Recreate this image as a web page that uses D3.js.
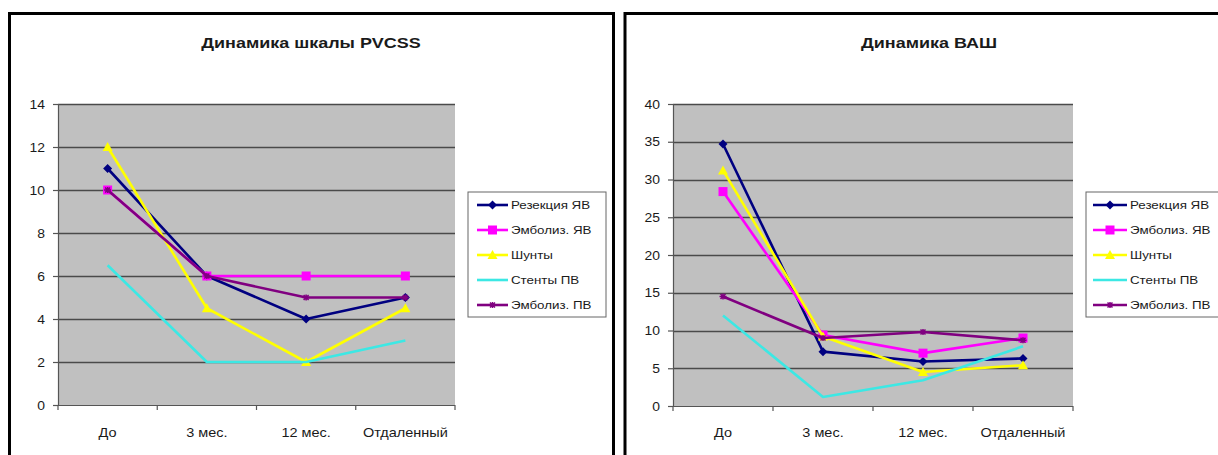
<!DOCTYPE html>
<html>
<head>
<meta charset="utf-8">
<script src="https://cdn.jsdelivr.net/npm/d3@7"></script>
<style>
  html, body { margin: 0; padding: 0; background: #fff; }
  svg { display: block; }
  text { font-family: "Liberation Sans", Arial, sans-serif; fill: #1a1a1a; }
</style>
</head>
<body>
<svg id="chart" width="1218" height="455"></svg>
<script>
// ---------- data ----------
const categories = ["До", "3 мес.", "12 мес.", "Отдаленный"];
const seriesNames = ["Резекция ЯВ", "Эмболиз. ЯВ", "Шунты", "Стенты ПВ", "Эмболиз. ПВ"];

const pvcssTitle = "Динамика шкалы PVCSS";
const pvcssTicks = [0, 2, 4, 6, 8, 10, 12, 14];
const pvcssResection = [11, 6, 4, 5];
const pvcssEmbolYV = [10, 6, 6, 6];
const pvcssShunts = [12, 4.5, 2, 4.5];
const pvcssStents = [6.5, 2, 2, 3];
const pvcssEmbolPV = [10, 6, 5, 5];

const vasTitle = "Динамика ВАШ";
const vasTicks = [0, 5, 10, 15, 20, 25, 30, 35, 40];
const vasResection = [34.7, 7.2, 5.9, 6.3];
const vasEmbolYV = [28.4, 9.4, 7.0, 9.0];
const vasShunts = [31.2, 9.2, 4.5, 5.4];
const vasStents = [12.0, 1.2, 3.4, 7.9];
const vasEmbolPV = [14.5, 9.0, 9.8, 8.7];

// ---------- styles ----------
const seriesColors = ["#000080", "#ff00ff", "#ffff00", "#3ce8e4", "#800080"];
const seriesMarkers = ["diamond", "square", "triangle", "none", "star"];
const SX = 1.16; // horizontal stretch of the original image text

const svg = d3.select("#chart");

function txt(g, x, y, s, size, anchor, weight) {
  return g.append("text")
    .attr("transform", `translate(${x},${y}) scale(${SX},1)`)
    .attr("text-anchor", anchor || "start")
    .style("font-size", size + "px")
    .style("font-weight", weight || "normal")
    .text(s);
}

function marker(g, type, x, y, color) {
  if (type === "diamond") {
    g.append("path").attr("d", `M${x},${y-4.5}L${x+4.5},${y}L${x},${y+4.5}L${x-4.5},${y}Z`).attr("fill", color);
  } else if (type === "square") {
    g.append("rect").attr("x", x-4.5).attr("y", y-4.5).attr("width", 9).attr("height", 9).attr("fill", color);
  } else if (type === "triangle") {
    g.append("path").attr("d", `M${x},${y-5}L${x+5},${y+4}L${x-5},${y+4}Z`).attr("fill", color);
  } else if (type === "star") {
    g.append("path").attr("d", `M${x-3.5},${y}L${x+3.5},${y}M${x},${y-3}L${x},${y+3}M${x-2.5},${y-2.5}L${x+2.5},${y+2.5}M${x-2.5},${y+2.5}L${x+2.5},${y-2.5}`)
      .attr("stroke", color).attr("stroke-width", 1.5);
  }
}

function drawChart(cfg) {
  const g = svg.append("g");
  // outer frame
  g.append("rect").attr("x", cfg.box[0]).attr("y", cfg.box[1])
    .attr("width", cfg.box[2]).attr("height", cfg.box[3])
    .attr("fill", "#fff").attr("stroke", "#000").attr("stroke-width", 3);

  txt(g, cfg.titleX, 48, cfg.title, 15.5, "middle", "bold");

  const x = d3.scaleBand().domain(categories).range([cfg.plot[0], cfg.plot[1]]);
  const y = d3.scaleLinear().domain([0, d3.max(cfg.ticks)]).range([cfg.plot[3], cfg.plot[2]]);

  // plot area
  g.append("rect").attr("x", cfg.plot[0]).attr("y", cfg.plot[2])
    .attr("width", cfg.plot[1] - cfg.plot[0]).attr("height", cfg.plot[3] - cfg.plot[2])
    .attr("fill", "#c0c0c0");

  // gridlines
  g.selectAll(".grid").data(cfg.ticks.filter(t => t > 0)).enter().append("line")
    .attr("x1", cfg.plot[0]).attr("x2", cfg.plot[1])
    .attr("y1", d => Math.round(y(d)) + 0.5).attr("y2", d => Math.round(y(d)) + 0.5)
    .attr("stroke", "#4a4a4a").attr("stroke-width", 1.3);

  // y axis
  const yAxis = d3.axisLeft(y).tickValues(cfg.ticks).tickSize(5).tickFormat("");
  const ya = g.append("g").attr("transform", `translate(${cfg.plot[0]},0)`).call(yAxis);
  ya.selectAll("path, line").attr("stroke", "#555").attr("stroke-width", 1.2);
  cfg.ticks.forEach(t => txt(g, cfg.plot[0] - 13, y(t) + 4.5, String(t), 12, "end"));

  // x axis with ticks at band boundaries
  g.append("line").attr("x1", cfg.plot[0]).attr("x2", cfg.plot[1])
    .attr("y1", cfg.plot[3] + 0.5).attr("y2", cfg.plot[3] + 0.5)
    .attr("stroke", "#555").attr("stroke-width", 1.2);
  const bounds = categories.map(c => x(c)).concat([cfg.plot[1]]);
  bounds.forEach(b => g.append("line").attr("x1", b).attr("x2", b)
    .attr("y1", cfg.plot[3]).attr("y2", cfg.plot[3] + 5).attr("stroke", "#555").attr("stroke-width", 1.2));
  categories.forEach(c => txt(g, x(c) + x.bandwidth() / 2, 437, c, 12.5, "middle"));

  // series
  const line = d3.line().x((d, i) => x(categories[i]) + x.bandwidth() / 2).y(d => y(d));
  cfg.series.forEach((vals, si) => {
    g.append("path").datum(vals).attr("d", line)
      .attr("fill", "none").attr("stroke", seriesColors[si]).attr("stroke-width", 2.6)
      .attr("stroke-linejoin", "round");
    vals.forEach((v, i) => marker(g, seriesMarkers[si], x(categories[i]) + x.bandwidth() / 2, y(v), seriesColors[si]));
  });

  // legend
  const L = cfg.legend;
  g.append("rect").attr("x", L.box[0]).attr("y", L.box[1]).attr("width", L.box[2]).attr("height", L.box[3])
    .attr("fill", "#fff").attr("stroke", "#666").attr("stroke-width", 1);
  seriesNames.forEach((n, i) => {
    const yy = L.y0 + i * 25;
    g.append("line").attr("x1", L.lx[0]).attr("x2", L.lx[1]).attr("y1", yy).attr("y2", yy)
      .attr("stroke", seriesColors[i]).attr("stroke-width", 2.6);
    marker(g, seriesMarkers[i], (L.lx[0] + L.lx[1]) / 2, yy, seriesColors[i]);
    txt(g, L.tx, yy + 4, n, 11.5, "start");
  });
}

drawChart({
  box: [9.5, 13.5, 604, 470],
  title: pvcssTitle, titleX: 311,
  plot: [58, 455, 104, 405],
  ticks: pvcssTicks,
  series: [pvcssResection, pvcssEmbolYV, pvcssShunts, pvcssStents, pvcssEmbolPV],
  legend: { box: [468, 192, 138, 125], y0: 205, lx: [477, 508], tx: 511 }
});

drawChart({
  box: [625, 13.5, 620, 470],
  title: vasTitle, titleX: 929,
  plot: [673, 1073, 104, 406],
  ticks: vasTicks,
  series: [vasResection, vasEmbolYV, vasShunts, vasStents, vasEmbolPV],
  legend: { box: [1086, 192, 160, 125], y0: 205, lx: [1093, 1127], tx: 1130 }
});
</script>
</body>
</html>
